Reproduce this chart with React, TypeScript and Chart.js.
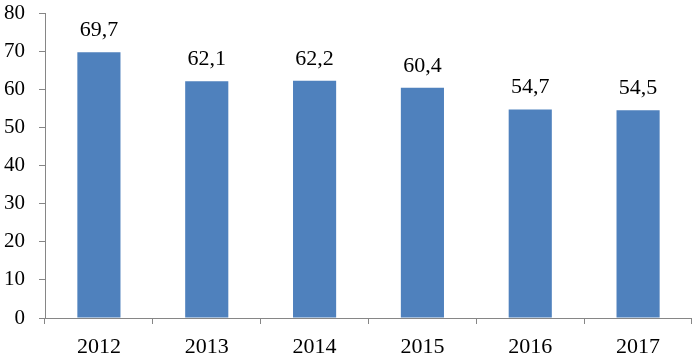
import React, { useEffect, useRef } from "react";
import { Chart, registerables } from "chart.js";

Chart.register(...registerables);

const categories = ["2012", "2013", "2014", "2015", "2016", "2017"];
const values = [69.7, 62.1, 62.2, 60.4, 54.7, 54.5];
const valueLabels = ["69,7", "62,1", "62,2", "60,4", "54,7", "54,5"];

const FONT = "'Liberation Serif', 'DejaVu Serif', serif";
const AXIS_COLOR = "#868686";
const BAR_COLOR = "#4F81BD";

const labelPlugin = {
  id: "valueLabels",
  afterDatasetsDraw(chart: any) {
    const ctx = chart.ctx;
    const meta = chart.getDatasetMeta(0);
    ctx.save();
    ctx.font = `22px ${FONT}`;
    ctx.fillStyle = "#000";
    ctx.textAlign = "center";
    ctx.textBaseline = "alphabetic";
    meta.data.forEach((bar: any, i: number) => {
      ctx.fillText(valueLabels[i], bar.x, bar.y - 16);
    });
    ctx.restore();
  },
};

export default function App() {
  const ref = useRef<HTMLCanvasElement | null>(null);
  useEffect(() => {
    document.body.style.margin = "0";
    const chart = new Chart(ref.current!, {
      type: "bar",
      data: {
        labels: categories,
        datasets: [
          {
            data: values,
            backgroundColor: BAR_COLOR,
            barPercentage: 0.4,
            categoryPercentage: 1,
          },
        ],
      },
      options: {
        animation: false,
        responsive: false,
        layout: { padding: { top: 13, right: 0, left: 0, bottom: 0 } },
        plugins: { legend: { display: false }, tooltip: { enabled: false } },
        scales: {
          x: {
            grid: {
              display: true,
              drawOnChartArea: false,
              drawTicks: true,
              tickLength: 6,
              color: AXIS_COLOR,
              offset: true,
            },
            border: { color: AXIS_COLOR, width: 1 },
            ticks: {
              color: "#000",
              font: { family: FONT, size: 22 },
              padding: 10,
              maxRotation: 0,
            },
            afterFit(scale: any) {
              scale.height = 44;
              scale.paddingLeft = 0;
              scale.paddingRight = 0;
            },
          },
          y: {
            min: 0,
            max: 80,
            grid: {
              display: true,
              drawOnChartArea: false,
              drawTicks: true,
              tickLength: 6,
              color: AXIS_COLOR,
            },
            border: { color: AXIS_COLOR, width: 1 },
            ticks: {
              stepSize: 10,
              color: "#000",
              font: { family: FONT, size: 21 },
              padding: 14,
            },
            afterFit(scale: any) {
              scale.width = 45;
              scale.paddingTop = 0;
              scale.paddingBottom = 0;
            },
          },
        },
      },
      plugins: [labelPlugin],
    });
    return () => chart.destroy();
  }, []);
  return <canvas ref={ref} width={692} height={362} style={{ display: "block" }} />;
}
